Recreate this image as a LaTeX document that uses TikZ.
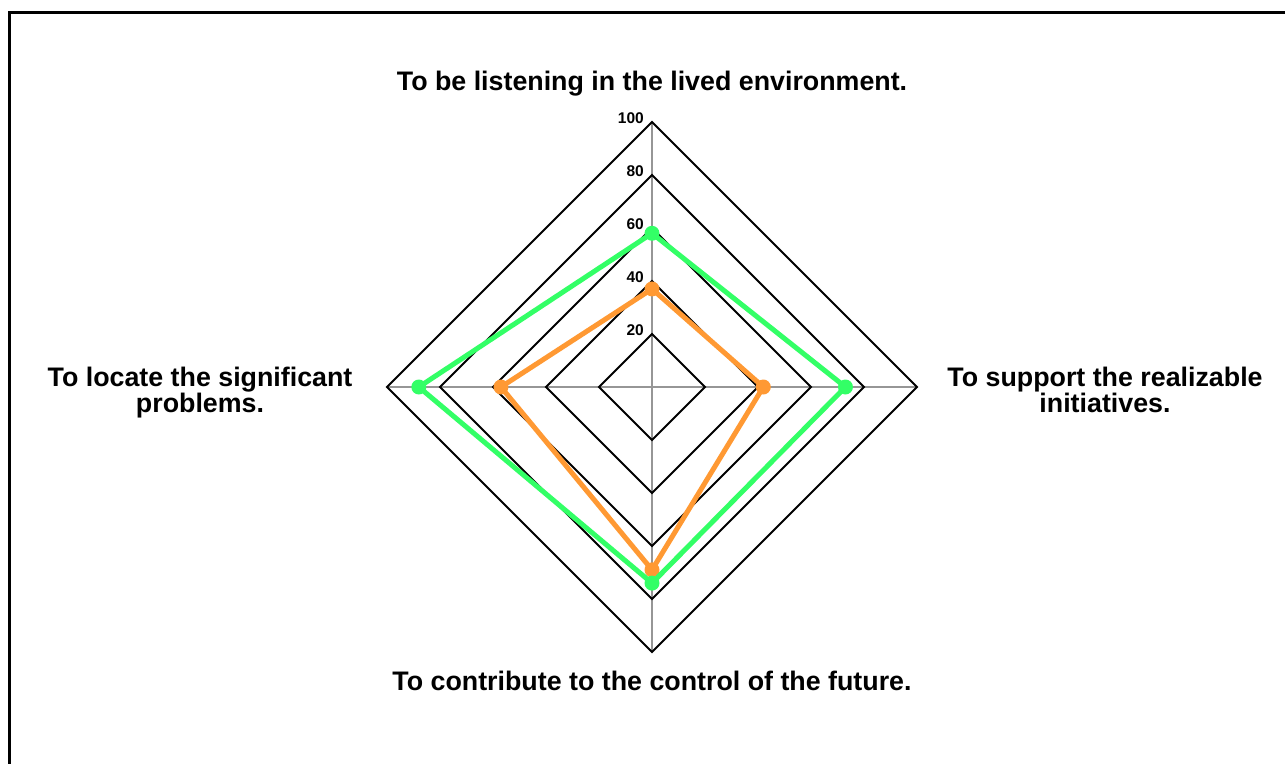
\documentclass[tikz,border=0pt]{standalone}
\usepackage{fontspec}
\setmainfont{Liberation Sans}
\usetikzlibrary{calc}
\definecolor{sgreen}{RGB}{51,255,102}
\definecolor{sorange}{RGB}{255,153,51}
\definecolor{axgray}{RGB}{150,150,150}
\newcommand\mycatfont{\fontsize{26.8bp}{26bp}\selectfont\bfseries\lineskiplimit=-30bp\relax}
\begin{document}
\begin{tikzpicture}[x=1bp,y=-1bp,
  grid/.style={black,line width=2bp,line join=miter},
  axisline/.style={axgray,line width=1.2bp},
  series/.style={line width=5bp,line join=round},
  dot/.style={circle,fill,inner sep=0pt,minimum size=15bp},
  ticklab/.style={anchor=base east,font=\fontsize{15.5bp}{18bp}\selectfont\bfseries,inner sep=0pt},
  catlab/.style={font=\mycatfont,align=center,inner sep=0pt}]
\useasboundingbox (0,0) rectangle (1285,764);
\begin{scope}
\clip (0,0) rectangle (1285,764);
\draw[line width=3bp] (9,800) -- (9,13) -- (1300,13);
\end{scope}
% centre and radius
\coordinate (c) at (652,387);
\def\R{265}
% axes
\coordinate (ax1) at ($(c)+(0,-\R)$);
\coordinate (ax2) at ($(c)+(\R,0)$);
\coordinate (ax3) at ($(c)+(0,\R)$);
\coordinate (ax4) at ($(c)+(-\R,0)$);
\foreach \a in {ax1,ax2,ax3,ax4} \draw[axisline] (c) -- (\a);
% grid diamonds
\foreach \v in {20,40,60,80,100}{
  \pgfmathsetmacro{\r}{\v/100*\R}
  \draw[grid] ($(c)+(0,-\r)$) -- ($(c)+(\r,0)$) -- ($(c)+(0,\r)$) -- ($(c)+(-\r,0)$) -- cycle;
  \node[ticklab] (t\v) at ($(c)+(-8,-\r+1.5)$) {\v};
}
% orange series
\coordinate (o1) at ($(c)+(0,-0.37*\R)$);
\coordinate (o2) at ($(c)+(0.42*\R,0)$);
\coordinate (o3) at ($(c)+(0,0.69*\R)$);
\coordinate (o4) at ($(c)+(-0.57*\R,0)$);
\draw[series,sorange] (o1) -- (o2) -- (o3) -- (o4) -- cycle;
\foreach \p in {o1,o2,o3,o4} \node[dot,fill=sorange] at (\p) {};
% green series
\coordinate (g1) at ($(c)+(0,-0.58*\R)$);
\coordinate (g2) at ($(c)+(0.73*\R,0)$);
\coordinate (g3) at ($(c)+(0,0.74*\R)$);
\coordinate (g4) at ($(c)+(-0.88*\R,0)$);
\draw[series,sgreen] (g1) -- (g2) -- (g3) -- (g4) -- cycle;
\foreach \p in {g1,g2,g3,g4} \node[dot,fill=sgreen] at (\p) {};
% category labels
\node[catlab,anchor=base] (l1) at (652,91) {To be listening in the lived environment.};
\node[catlab,anchor=north] (l2) at (1105,367) {To support the realizable\\initiatives.};
\node[catlab,anchor=base] (l3) at (652,690) {To contribute to the control of the future.};
\node[catlab,anchor=north] (l4) at (200,367) {To locate the significant\\problems.};
\end{tikzpicture}
\end{document}
